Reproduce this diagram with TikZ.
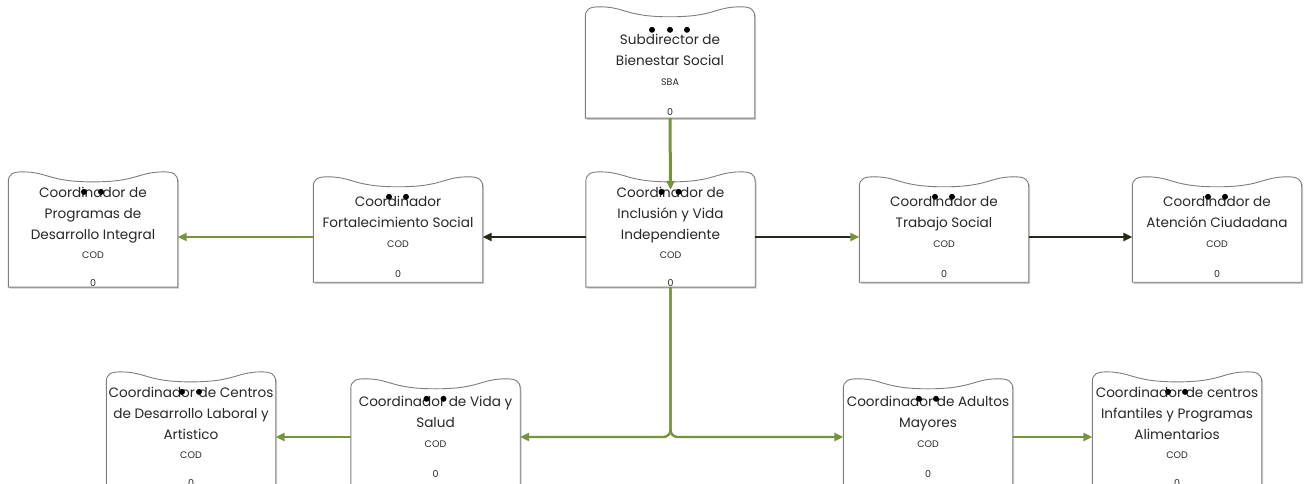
\documentclass[tikz,border=0pt]{standalone}
\usepackage{fontspec}
\setmainfont{Poppins}
\usetikzlibrary{arrows.meta,calc,shadows}

\definecolor{grn}{RGB}{119,147,60}
\definecolor{dk}{RGB}{38,40,28}
\definecolor{edge}{RGB}{125,125,125}
\definecolor{ink}{RGB}{40,40,40}

\pgfdeclarelayer{bg}
\pgfsetlayers{bg,main}

\newcommand\sm{\fontsize{9.5}{11}\selectfont}

% card outline: rounded top corners and a sagging top edge; #2 moves the bottom edge
\newcommand\cardframe[2]{%
  \begin{pgfonlayer}{bg}
  \path[outline] ($(#1.south west)+(0,#2)$) -- ($(#1.north west)+(0,-5)$)
    .. controls ($(#1.north west)+(0,-13)$) and ($(#1.north west)+(5,-15)$) .. ($(#1.north west)+(14,-15)$)
    .. controls ($(#1.north west)+(40,-15)$) and ($(#1.north)+(-45,-5)$) .. ($(#1.north)+(0,-5)$)
    .. controls ($(#1.north)+(45,-5)$) and ($(#1.north east)+(-40,-15)$) .. ($(#1.north east)+(-14,-15)$)
    .. controls ($(#1.north east)+(-5,-15)$) and ($(#1.north east)+(0,-13)$) .. ($(#1.north east)+(0,-5)$)
    -- ($(#1.south east)+(0,#2)$) -- cycle;
  \end{pgfonlayer}}

% the small black pins near the top of a card
\newcommand\twopins[2]{%
  \fill ($(#1.north)+(-9,#2)$) circle (3pt) ($(#1.north)+(8,#2)$) circle (3pt);}

\tikzset{
  card/.style={align=center, inner sep=0pt, minimum width=169pt, text=ink,
    font=\fontsize{13.6}{21}\selectfont},
  toprow/.style={card, minimum height=106pt},
  midrow/.style={card, minimum height=90pt},
  lowrow/.style={card, minimum height=86pt},
  outline/.style={draw=edge, line width=0.9pt, fill=white,
    drop shadow={shadow xshift=1.3pt, shadow yshift=-1.6pt, opacity=0.35, fill=black!60}},
  tip/.style={-{Triangle[length=9pt,width=8pt]}},
  glink/.style={draw=grn, line width=2.4pt, tip},
  dlink/.style={draw=dk, line width=2.6pt, tip},
}

\begin{document}
\begin{tikzpicture}[x=1pt, y=-1pt]
\clip (0,0) rectangle (1305,484);

% top level
\node[toprow] (sub) at (670,75) {Subdirector de\\Bienestar Social\\[-1pt]{\sm SBA}\\[9pt]{\sm 0}};

% second level
\node[midrow] (prog) at (93,237) {Coordinador de\\Programas de\\Desarrollo Integral\\[-1.5pt]{\sm COD}\\[7pt]{\sm 0}};
\node[midrow] (fort) at (398,237) {Coordinador\\Fortalecimiento Social\\[-1.5pt]{\sm COD}\\[9pt]{\sm 0}};
\node[midrow] (incl) at (670.5,237) {Coordinador de\\Inclusión y Vida\\Independiente\\[-1.5pt]{\sm COD}\\[7pt]{\sm 0}};
\node[midrow] (trab) at (944,237) {Coordinador de\\Trabajo Social\\[-1.5pt]{\sm COD}\\[9pt]{\sm 0}};
\node[midrow] (aten) at (1217,237) {Coordinador de\\Atención Ciudadana\\[-1.5pt]{\sm COD}\\[9pt]{\sm 0}};

% third level
\node[lowrow] (cent) at (191,437) {Coordinador de Centros\\de Desarrollo Laboral y\\Artistico\\[-1.5pt]{\sm COD}\\[7pt]{\sm 0}};
\node[lowrow] (vida) at (435.5,437) {Coordinador de Vida y\\Salud\\[-1.5pt]{\sm COD}\\[9pt]{\sm 0}};
\node[lowrow] (adul) at (928,437) {Coordinador de Adultos\\Mayores\\[-1.5pt]{\sm COD}\\[9pt]{\sm 0}};
\node[lowrow] (infa) at (1177,437) {Coordinador de centros\\Infantiles y Programas\\Alimentarios\\[-1.5pt]{\sm COD}\\[7pt]{\sm 0}};

% card outlines
\cardframe{sub}{-10}
\foreach \c in {prog,fort,incl,trab,aten} {\cardframe{\c}{0}}
\foreach \c in {cent,vida,adul,infa} {\cardframe{\c}{20}}

% pins
\fill ($(sub.north)+(-18,8)$) circle (3pt) ($(sub.north)+(0,8)$) circle (3pt) ($(sub.north)+(17,8)$) circle (3pt);
\foreach \c in {prog,fort,incl,trab,aten} {\twopins{\c}{5}}
\foreach \c in {cent,vida,adul,infa} {\twopins{\c}{5}}

% connectors
\draw[glink, line width=3pt] ($(sub.south)+(0,-10)$) -- ($(incl.north)+(0,3)$);
\draw[dlink] (incl.west) -- (fort.east);
\draw[glink, line width=2pt] (fort.west) -- (prog.east);
\draw[dlink, -{Triangle[length=9pt,width=8pt,color=grn]}] (incl.east) -- (trab.west);
\draw[dlink] (trab.east) -- (aten.west);
\draw[glink, rounded corners=7pt] (incl.south) |- (vida.east);
\draw[glink, rounded corners=7pt] (incl.south) |- (adul.west);
\draw[glink] (vida.west) -- (cent.east);
\draw[glink] (adul.east) -- (infa.west);
\end{tikzpicture}
\end{document}
